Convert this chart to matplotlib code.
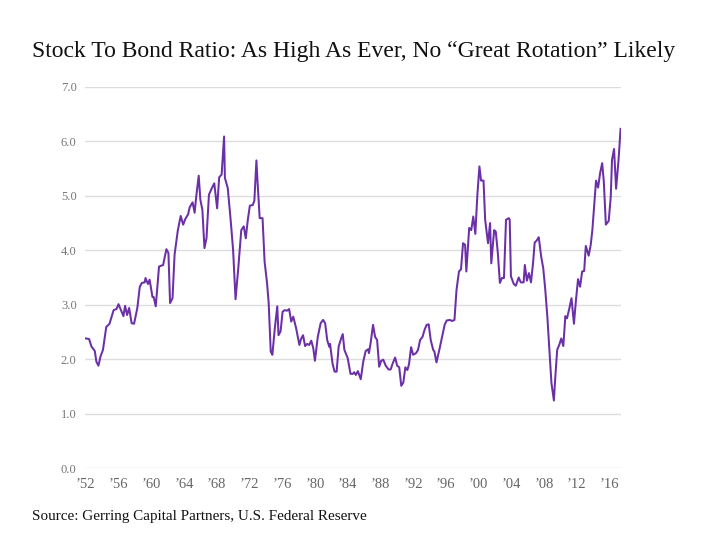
import matplotlib
matplotlib.use("Agg")
import matplotlib.pyplot as plt

years = [1952.0, 1952.4, 1952.7, 1953.1, 1953.3, 1953.55, 1953.8, 1954.1, 1954.5, 1954.9,
         1955.4, 1955.75, 1956.0, 1956.3, 1956.6, 1956.8, 1957.05, 1957.3, 1957.6, 1957.9,
         1958.3, 1958.6, 1958.85, 1959.2, 1959.3, 1959.6, 1959.8, 1960.15, 1960.3, 1960.55,
         1960.95, 1961.45, 1961.85, 1962.1, 1962.3, 1962.6, 1962.85, 1963.25, 1963.6, 1963.9,
         1964.15, 1964.5, 1964.7, 1965.05, 1965.3, 1965.5, 1965.8, 1966.0, 1966.25, 1966.5,
         1966.75, 1967.05, 1967.4, 1967.7, 1968.05, 1968.3, 1968.6, 1968.9, 1969.0, 1969.35,
         1969.7, 1970.0, 1970.3, 1970.65, 1971.0, 1971.3, 1971.55, 1971.8, 1972.05, 1972.4,
         1972.6, 1972.85, 1973.0, 1973.25, 1973.6, 1973.85, 1974.15, 1974.35, 1974.6, 1974.8,
         1975.1, 1975.4, 1975.55, 1975.8, 1976.05, 1976.3, 1976.6, 1976.85, 1977.1, 1977.35,
         1977.7, 1978.1, 1978.3, 1978.55, 1978.8, 1979.05, 1979.3, 1979.55, 1979.8, 1980.0,
         1980.35, 1980.7, 1981.0, 1981.25, 1981.5, 1981.75, 1981.85, 1982.15, 1982.4, 1982.65,
         1982.9, 1983.2, 1983.4, 1983.6, 1984.0, 1984.35, 1984.65, 1984.8, 1985.0, 1985.25,
         1985.6, 1985.9, 1986.2, 1986.5, 1986.6, 1986.8, 1987.1, 1987.35, 1987.6, 1987.85,
         1988.1, 1988.35, 1988.65, 1989.0, 1989.25, 1989.5, 1989.8, 1990.05, 1990.3, 1990.55,
         1990.8, 1991.05, 1991.3, 1991.5, 1991.75, 1992.0, 1992.35, 1992.6, 1992.85, 1993.15,
         1993.4, 1993.65, 1993.9, 1994.15, 1994.45, 1994.6, 1994.85, 1995.2, 1995.5, 1995.85,
         1996.1, 1996.5, 1996.75, 1997.05, 1997.3, 1997.6, 1997.85, 1998.1, 1998.35, 1998.5,
         1998.85, 1999.1, 1999.35, 1999.6, 1999.85, 2000.1, 2000.3, 2000.6, 2000.8, 2001.15,
         2001.4, 2001.55, 2001.9, 2002.1, 2002.35, 2002.6, 2002.85, 2003.1, 2003.35, 2003.7,
         2003.8, 2003.95, 2004.3, 2004.55, 2004.9, 2005.15, 2005.5, 2005.65, 2005.9, 2006.15,
         2006.4, 2006.65, 2006.85, 2007.1, 2007.35, 2007.65, 2007.9, 2008.15, 2008.4, 2008.65,
         2008.9, 2009.2, 2009.35, 2009.6, 2009.85, 2010.1, 2010.35, 2010.6, 2010.8, 2011.1,
         2011.35, 2011.65, 2011.9, 2012.15, 2012.4, 2012.65, 2012.9, 2013.1, 2013.45, 2013.7,
         2013.9, 2014.35, 2014.6, 2014.85, 2015.1, 2015.3, 2015.55, 2015.9, 2016.15, 2016.3,
         2016.55, 2016.8, 2017.1, 2017.35]

ratio = [2.38, 2.37, 2.23, 2.15, 1.95, 1.88, 2.05, 2.17, 2.59, 2.65,
         2.90, 2.92, 3.01, 2.90, 2.79, 2.98, 2.81, 2.94, 2.66, 2.65,
         2.94, 3.33, 3.40, 3.41, 3.49, 3.38, 3.46, 3.14, 3.14, 2.97,
         3.70, 3.73, 4.02, 3.95, 3.03, 3.12, 3.92, 4.37, 4.63, 4.47,
         4.57, 4.66, 4.79, 4.88, 4.69, 4.99, 5.37, 4.93, 4.74, 4.04,
         4.22, 5.02, 5.14, 5.23, 4.77, 5.34, 5.39, 6.09, 5.33, 5.14,
         4.56, 4.01, 3.10, 3.70, 4.37, 4.44, 4.22, 4.56, 4.82, 4.83,
         4.91, 5.65, 5.23, 4.59, 4.59, 3.79, 3.40, 3.03, 2.14, 2.08,
         2.57, 2.97, 2.44, 2.51, 2.87, 2.90, 2.89, 2.92, 2.69, 2.78,
         2.57, 2.26, 2.37, 2.44, 2.24, 2.28, 2.26, 2.34, 2.20, 1.97,
         2.41, 2.66, 2.72, 2.66, 2.35, 2.23, 2.28, 1.92, 1.77, 1.77,
         2.23, 2.38, 2.46, 2.17, 2.02, 1.73, 1.73, 1.76, 1.71, 1.78,
         1.63, 1.95, 2.15, 2.18, 2.11, 2.29, 2.63, 2.41, 2.35, 1.86,
         1.97, 1.99, 1.88, 1.81, 1.81, 1.92, 2.03, 1.88, 1.85, 1.51,
         1.57, 1.85, 1.80, 1.91, 2.22, 2.08, 2.11, 2.17, 2.35, 2.41,
         2.54, 2.63, 2.64, 2.35, 2.17, 2.14, 1.94, 2.17, 2.38, 2.63,
         2.71, 2.72, 2.70, 2.72, 3.27, 3.61, 3.65, 4.13, 4.10, 3.61,
         4.41, 4.37, 4.62, 4.30, 5.02, 5.54, 5.28, 5.28, 4.56, 4.13,
         4.50, 3.76, 4.37, 4.34, 3.95, 3.40, 3.49, 3.49, 4.56, 4.59,
         4.56, 3.52, 3.38, 3.35, 3.50, 3.41, 3.41, 3.73, 3.44, 3.58,
         3.41, 3.76, 4.14, 4.18, 4.24, 3.88, 3.67, 3.27, 2.78, 2.17,
         1.56, 1.24, 1.62, 2.17, 2.26, 2.38, 2.24, 2.79, 2.75, 2.94,
         3.12, 2.65, 3.09, 3.47, 3.33, 3.61, 3.62, 4.08, 3.90, 4.10,
         4.37, 5.28, 5.15, 5.42, 5.60, 5.26, 4.47, 4.54, 4.99, 5.66,
         5.86, 5.13, 5.66, 6.23]

x_ticks = list(range(1952, 2017, 4))
x_tick_labels = ["\u2019" + str(y)[2:] for y in x_ticks]
y_ticks = [0, 1, 2, 3, 4, 5, 6, 7]
y_tick_labels = ["%.1f" % v for v in y_ticks]

title = "Stock To Bond Ratio: As High As Ever, No \u201cGreat Rotation\u201d Likely"
source = "Source: Gerring Capital Partners, U.S. Federal Reserve"

serif = ["Liberation Serif", "DejaVu Serif"]

fig = plt.figure(figsize=(7.2, 5.4), dpi=100)
ax = fig.add_axes([0.118, 0.1333, 0.7445, 0.7057])
ax.plot(years, ratio, color="#6b2fa8", linewidth=1.45)
ax.set_xlim(1951.9, 2017.4)
ax.set_ylim(0, 7)
ax.set_yticks(y_ticks)
ax.set_yticklabels(y_tick_labels, family=serif, fontsize=9, color="#777777")
ax.set_xticks(x_ticks)
ax.set_xticklabels(x_tick_labels, family=serif, fontsize=10.5, color="#666666")
ax.tick_params(axis="both", length=0)
ax.tick_params(axis="y", pad=6)
ax.tick_params(axis="x", pad=7)
ax.grid(axis="y", color="#dddddd", linewidth=1)
ax.set_axisbelow(True)
for s in ax.spines.values():
    s.set_visible(False)

fig.text(0.491, 0.905, title, ha="center", va="center", family=serif, fontsize=17, color="#111111")
fig.text(0.044, 0.043, source, ha="left", va="center", family=serif, fontsize=10.9, color="#111111")

fig.savefig("out.png", dpi=100)
